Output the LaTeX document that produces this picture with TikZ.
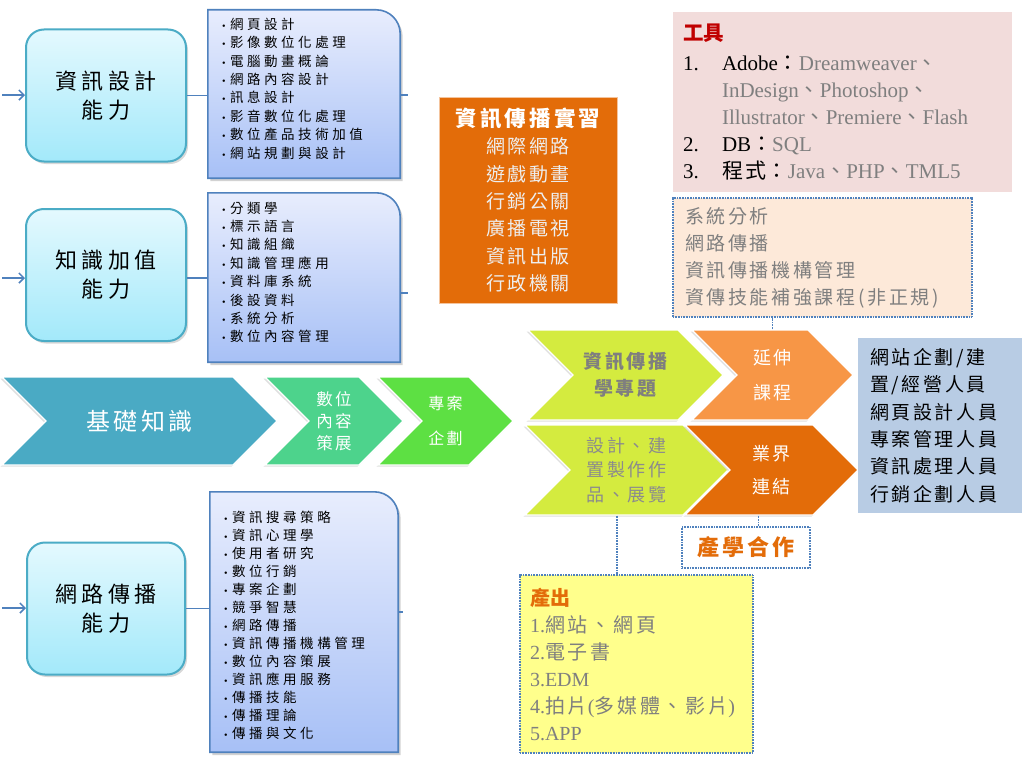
\documentclass[tikz,border=0pt]{standalone}
\usepackage{fontspec}
\setmainfont{Liberation Serif}
\newfontfamily\cjk{Noto Sans CJK TC}
\newfontfamily\cjkwide{Noto Sans CJK TC}[LetterSpace=20]
\newfontfamily\cjkmid{Noto Sans CJK TC}[LetterSpace=14]
\newfontfamily\cjkitem{Noto Sans CJK TC}[LetterSpace=26]
\usetikzlibrary{shapes.symbols,arrows.meta,shadows}
\newcommand\fs[2]{\fontsize{#1}{#2}\selectfont}
% small bullet for the course lists
\newcommand\bul{\makebox[8pt][l]{\rmfamily\fontsize{10}{10}\selectfont\textbullet}}

\definecolor{linkblue}{HTML}{4F81BD}
\definecolor{cyanedge}{HTML}{4BACC6}
\definecolor{cyantop}{HTML}{E4F9FE}
\definecolor{cyanbot}{HTML}{A3E9FA}
\definecolor{listtop}{HTML}{E8EDFD}
\definecolor{listbot}{HTML}{A7C0F6}
\definecolor{tealc}{HTML}{4AAAC4}
\definecolor{mint}{RGB}{77,211,140}
\definecolor{lime}{RGB}{93,224,67}
\definecolor{chartreuse}{RGB}{212,235,63}
\definecolor{lightorange}{HTML}{F79646}
\definecolor{darkorange}{HTML}{E36C09}
\definecolor{steel}{HTML}{B8CCE4}
\definecolor{rose}{HTML}{F2DCDB}
\definecolor{peach}{HTML}{FDE9D9}
\definecolor{paleyellow}{HTML}{FFFF8C}
\definecolor{toolred}{HTML}{C00000}
\definecolor{softgray}{HTML}{7F7F7F}
\definecolor{lightgraytext}{HTML}{8C8C8C}
\definecolor{paletext}{HTML}{EEEEEE}

\begin{document}
\begin{tikzpicture}[x=1pt,y=-1pt,
  ability/.style={rectangle, rounded corners=18pt, draw=cyanedge, line width=2pt,
    top color=cyantop, bottom color=cyanbot, minimum width=160pt, minimum height=132pt,
    align=center, font=\cjkwide\fs{22}{29},
    drop shadow={opacity=0.3, shadow xshift=2pt, shadow yshift=-2.5pt}},
  frame/.style={rectangle, inner sep=0pt},
  tabfill/.style={draw=linkblue, line width=1.6pt, top color=listtop, bottom color=listbot,
    drop shadow={opacity=0.35, shadow xshift=2.5pt, shadow yshift=-3pt}},
  items/.style={align=left, inner sep=0pt, anchor=west},
  link/.style={draw=linkblue, line width=1.5pt},
  inarrow/.style={link, -{Straight Barb[length=5pt,width=10pt]}},
  chev/.style={signal, signal to=east, signal from=west, signal pointer angle=90,
    draw=white, line width=1.2pt, inner sep=0pt, align=center,
    drop shadow={opacity=0.25, shadow xshift=-1.5pt, shadow yshift=-1.5pt}},
  dotline/.style={draw=linkblue, line width=1.4pt, dash pattern=on 1pt off 0.6pt},
  panel/.style={rectangle, inner ysep=0pt, align=left}
]
\fill[white] (0,0) rectangle (1024,768);
\useasboundingbox (0,0) rectangle (1024,768);

% ---- competence boxes on the left ----
\node[ability] (A1) at (106,95.5) {資訊設計\\能力};
\node[ability] (A2) at (106,275) {知識加值\\能力};
\node[ability, minimum width=158pt] (A3) at (106,608.5) {網路傳播\\能力};

\coordinate (in1) at (2,95);
\coordinate (in2) at (2,278);
\coordinate (in3) at (2,608);
\draw[inarrow] (in1) -- (in1 -| A1.west);
\draw[inarrow] (in2) -- (in2 -| A2.west);
\draw[inarrow] (in3) -- (in3 -| A3.west);

% ---- course lists (tab shape, rounded top-right corner) ----
\node[frame, minimum width=192pt, minimum height=168pt] (L1) at (304,94) {};
\node[frame, minimum width=192pt, minimum height=169pt] (L2) at (304,277.5) {};
\node[frame, minimum width=188pt, minimum height=260pt] (L3) at (304,622) {};
\foreach \L in {L1,L2,L3}{
  \path[tabfill] (\L.south west) -- (\L.north west) -- ([xshift=-24pt]\L.north east)
    arc[start angle=90, end angle=0, radius=24pt] -- (\L.south east) -- cycle;
}

\node[items, font=\cjkitem\fs{13.5}{18.4}] (T1) at (222,88.5)
  {\bul 網頁設計\\\bul 影像數位化處理\\\bul 電腦動畫概論\\\bul 網路內容設計\\\bul 訊息設計\\\bul 影音數位化處理\\\bul 數位產品技術加值\\\bul 網站規劃與設計};
\node[items, font=\cjkitem\fs{13.5}{18.4}] (T2) at (222,272.5)
  {\bul 分類學\\\bul 標示語言\\\bul 知識組織\\\bul 知識管理應用\\\bul 資料庫系統\\\bul 後設資料\\\bul 系統分析\\\bul 數位內容管理};
\node[items, font=\cjkitem\fs{13.5}{18}] (T3) at (224,625)
  {\bul 資訊搜尋策略\\\bul 資訊心理學\\\bul 使用者研究\\\bul 數位行銷\\\bul 專案企劃\\\bul 競爭智慧\\\bul 網路傳播\\\bul 資訊傳播機構管理\\\bul 數位內容策展\\\bul 資訊應用服務\\\bul 傳播技能\\\bul 傳播理論\\\bul 傳播與文化};

\draw[link] (A1.east) -- (A1.east -| L1.west);
\draw[link] (A2.east |- 0,278) -- (L2.west |- 0,278);
\draw[link] (A3.east) -- (A3.east -| L3.west);

\coordinate (s1) at (408,95);
\coordinate (s2) at (408,293);
\coordinate (s3) at (403,612);
\draw[link] (s1 -| L1.east) -- (s1);
\draw[link] (s2 -| L2.east) -- (s2);
\draw[link] (s3 -| L3.east) -- (s3);

% ---- process chevrons ----
\node[chev, fill=tealc, minimum width=275pt, minimum height=88pt,
  font=\cjkmid\fs{24}{30}, text=white] (base) at (139.5,421) {基礎知識};
\node[chev, fill=mint, minimum width=138pt, minimum height=88pt,
  font=\cjkmid\fs{16.5}{22}, text=white] (curate) at (334,421) {數位\\內容\\策展};
\node[chev, fill=lime, minimum width=135pt, minimum height=88pt,
  font=\cjkmid\fs{16}{35}, text=white] (plan) at (445.5,421) {專案\\企劃};
\node[chev, fill=chartreuse, minimum width=195pt, minimum height=90pt,
  font=\cjkmid\bfseries\fs{19}{27}, text=softgray] (topic) at (625.5,375) {資訊傳播\\學專題};
\node[chev, fill=chartreuse, minimum width=203pt, minimum height=90pt,
  font=\cjkmid\fs{18}{24.5}, text=lightgraytext] (design) at (626.5,470) {設計、建\\置製作作\\品、展覽};
\node[chev, fill=lightorange, minimum width=161pt, minimum height=90pt,
  font=\cjkmid\fs{18}{35}, text=white] (ext) at (772.5,375) {延伸\\課程};
\node[chev, fill=darkorange, minimum width=173pt, minimum height=90pt,
  font=\cjkmid\fs{18}{33}, text=white] (ind) at (771.5,470) {業界\\連結};

% ---- careers ----
\node[panel, fill=steel, minimum width=164pt, minimum height=175pt, inner xsep=12pt,
  text width=140pt, font=\cjkmid\fs{19}{27.4}] (jobs) at (940,425.5)
  {網站企劃/建\\置/經營人員\\網頁設計人員\\專案管理人員\\資訊處理人員\\行銷企劃人員};

% ---- internship ----
\node[rectangle, fill=darkorange, draw=darkorange!40, line width=0.6pt,
  minimum width=178pt, minimum height=206pt, align=center,
  font=\cjkmid\fs{19}{27.4}, text=paletext] (intern) at (528,200)
  {{\color{white}\bfseries\fs{21.5}{27.4}資訊傳播實習}\\網際網路\\遊戲動畫\\行銷公關\\廣播電視\\資訊出版\\行政機關};

% ---- tools ----
\node[panel, fill=rose, minimum width=339pt, minimum height=180pt, inner xsep=10pt,
  text width=319pt, font=\fs{21}{27}] (tools) at (842.5,102)
  {{\cjk\bfseries\color{toolred}\fs{20.5}{27}工具}\\[3pt]
   \makebox[39pt][l]{1.}Adobe{\cjk ：}\textcolor{softgray}{Dreamweaver{\cjk 、}}\\
   \hspace*{39pt}\textcolor{softgray}{InDesign{\cjk 、}Photoshop{\cjk 、}}\\
   \hspace*{39pt}\textcolor{softgray}{Illustrator{\cjk 、}Premiere{\cjk 、}Flash}\\
   \makebox[39pt][l]{2.}DB{\cjk ：}\textcolor{softgray}{SQL}\\
   \makebox[39pt][l]{3.}{\cjkmid 程式}{\cjk ：}\textcolor{softgray}{Java{\cjk 、}PHP{\cjk 、}TML5}};

% ---- extension courses ----
\node[panel, fill=peach, dotline, minimum width=299pt, minimum height=119pt, inner xsep=12pt,
  text width=275pt, font=\cjkmid\fs{19}{27}, text=softgray] (sys) at (822.5,257.5)
  {系統分析\\網路傳播\\資訊傳播機構管理\\資傳技能補強課程(非正規)};

% ---- industry cooperation ----
\node[rectangle, fill=white, dotline, minimum width=128pt, minimum height=41pt,
  font=\cjkmid\bfseries\fs{22}{26}, text=darkorange] (coop) at (746,547.5) {產學合作};

% ---- outputs ----
\node[panel, fill=paleyellow, dotline, minimum width=233pt, minimum height=178pt, inner xsep=10pt,
  text width=213pt, font=\fs{20}{27}, text=softgray] (out) at (636.5,664)
  {{\cjk\bfseries\color{darkorange}產出}\\
   1.{\cjkmid 網站、網頁}\\
   2.{\cjkmid 電子書}\\
   3.EDM\\
   4.{\cjkmid 拍片}({\cjkmid 多媒體、影片})\\
   5.APP};

% ---- dotted links ----
\draw[dotline] (ext.north) -- (ext.north |- sys.south);
\draw[dotline] ([xshift=-13pt]ind.south) -- ([xshift=-13pt]ind.south |- coop.north);
\draw[dotline] ([xshift=-9.5pt]design.south) -- ([xshift=-9.5pt]design.south |- out.north);
\end{tikzpicture}
\end{document}
